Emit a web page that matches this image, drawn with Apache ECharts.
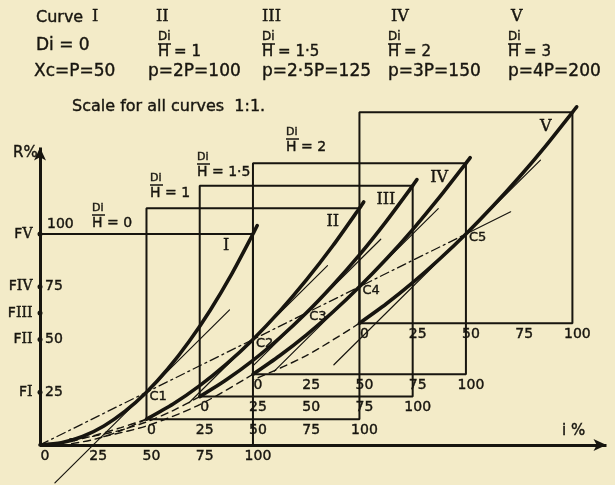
<!DOCTYPE html>
<html>
<head>
<meta charset="utf-8">
<script src="https://cdn.jsdelivr.net/npm/echarts@6/dist/echarts.min.js"></script>
<style>
html, body { margin: 0; padding: 0; background: #f3ebc8; }
#main { width: 615px; height: 485px; }
</style>
</head>
<body>
<div id="main"></div>
<script>
var ink = '#17150f';
var font = 'DejaVu Sans';
var serif = 'DejaVu Serif';

// data (units: i% across, R% up, scale 1:1)
var tickSteps = [0, 25, 50, 75, 100];
var tickLabels = ['0', '25', '50', '75', '100'];
var boxNames = ['I', 'II', 'III', 'IV', 'V'];
var boxOrigins = [[0, 0], [50, 12.2], [75, 22.9], [100, 33.5], [150, 57.7]];
var boxSize = 100;
var contactPoints = [[50, 25], [100, 50], [125, 62.5], [150, 75], [200, 100]];
var contactNames = ['C1', 'C2', 'C3', 'C4', 'C5'];
var fValues = ['25', '50', '', '75', '100'];

var curveI = [[0, 0], [10, 1], [20, 4], [30, 9], [40, 16], [50, 25], [60, 36], [70, 49], [80, 64], [90, 81], [100, 100], [102, 104]];
var curveII = [[50, 12.2], [62.5, 19.4], [75, 28.1], [87.5, 38.3], [100, 50], [112.5, 63.3], [125, 78.1], [137.5, 94.4], [150, 112.2], [152, 115.2]];
var curveIII = [[75, 22.9], [87.5, 30.9], [100, 40.1], [112.5, 50.7], [125, 62.5], [137.5, 75.7], [150, 90.1], [162.5, 105.9], [175, 122.9], [177, 125.8]];
var curveIV = [[100, 33.5], [112.5, 42.3], [125, 52.1], [137.5, 63], [150, 75], [162.5, 88], [175, 102.1], [187.5, 117.3], [200, 133.5], [202, 136.2]];
var curveV = [[150, 57.7], [162.5, 66.8], [175, 76.9], [187.5, 88], [200, 100], [212.5, 113], [225, 126.9], [237.5, 141.8], [250, 157.7], [252, 160.3]];

// dashed run-outs below each box origin
var dashII = [[50, 12.2], [37.5, 6.6], [25, 2.5], [13, 0.3]];
var dashIIb = [[50, 12.2], [38, 8.2], [26, 4.6], [16, 2]];
var dashIII = [[75, 22.9], [62.5, 16.3], [50, 10.9], [37.5, 6.9], [25, 4.1], [14, 2.8]];
var dashIV = [[100, 33.5], [75, 19.1], [50, 9], [30, 4]];
var dashV = [[150, 57.7], [125, 42.3], [100, 30.8]];

// thin tangents at the contact points
var tangents = [
  [[7, -18], [89, 64]],
  [[70, 20], [135, 85]],
  [[100, 37.5], [160, 97.5]],
  [[110, 35], [187, 112]],
  [[138, 38], [235, 135]]
];
var chord = [[0, 0], [200, 100]];
var chordTail = [[200, 100], [221, 110.5]];

var chart = echarts.init(document.getElementById('main'));

function path(data, width, type, smooth) {
  return {
    type: 'line', data: data, symbol: 'none', smooth: smooth || false,
    clip: false, silent: true, animation: false,
    lineStyle: { color: ink, width: width, type: type || 'solid', cap: 'round' }
  };
}
function lbl(o) {
  o.show = true;
  o.color = ink;
  o.opacity = 1;
  o.textBorderColor = ink;
  o.textBorderWidth = 0.4;
  return o;
}

var series = [];

// frames of the five diagrams
boxOrigins.forEach(function (o, i) {
  var x0 = o[0], y0 = o[1], x1 = x0 + boxSize, y1 = y0 + boxSize;
  var d = i === 0 ? [[x0, y1], [x1, y1], [x1, y0]]
                  : [[x0, y0], [x1, y0], [x1, y1], [x0, y1], [x0, y0]];
  series.push(path(d, 2));
});

// main axes with arrows
series.push({
  type: 'line', data: [], animation: false,
  markLine: {
    silent: true, animation: false, symbol: ['none', 'arrow'], symbolSize: [9, 13],
    label: { show: false },
    lineStyle: { color: ink, width: 3, type: 'solid' },
    data: [
      [{ coord: [0, 0] }, { coord: [0, 141] }],
      [{ coord: [0, 0] }, { coord: [266, 0] }]
    ]
  }
});

tangents.forEach(function (t) { series.push(path(t, 1.2)); });
series.push(path(chord, 1.3, [9, 4, 2, 4]));
series.push(path(chordTail, 1.2));
[dashII, dashIIb, dashIII, dashIV, dashV].forEach(function (d) {
  series.push(path(d, 1.4, [7, 5], 0.3));
});

var curves = [curveI, curveII, curveIII, curveIV, curveV];
curves.forEach(function (c) { series.push(path(c, 3.6, 'solid', 0.25)); });

// curve numerals next to the top ends
series.push({
  type: 'scatter', symbolSize: 0, silent: true, animation: false,
  data: curves.map(function (c, i) { return { value: c[c.length - 1], name: boxNames[i] }; }),
  label: lbl({ position: 'inside', formatter: '{b}', offset: [-31, 20], fontFamily: serif, fontSize: 16 })
});

// tick labels under each frame
var ticks = [];
boxOrigins.forEach(function (o) {
  tickSteps.forEach(function (s, k) {
    ticks.push({ value: [o[0] + s, o[1]], name: tickLabels[k] });
  });
});
series.push({
  type: 'scatter', symbolSize: 0, silent: true, animation: false, data: ticks,
  label: lbl({ position: 'bottom', distance: 4, offset: [5, 0], formatter: '{b}', fontFamily: font, fontSize: 14 })
});

// contact point names
series.push({
  type: 'scatter', symbolSize: 0, silent: true, animation: false,
  data: contactPoints.map(function (p, i) { return { value: p, name: contactNames[i] }; }),
  label: lbl({ position: 'right', distance: 3, offset: [0, 4], formatter: '{b}', fontFamily: font, fontSize: 13 })
});

// F marks on the R axis
series.push({
  type: 'scatter', symbol: 'circle', symbolSize: 5, silent: true, animation: false,
  itemStyle: { color: ink, opacity: 1 },
  data: contactPoints.map(function (p, i) { return { value: [0, p[1]], name: boxNames[i] }; }),
  label: lbl({
    position: 'left', distance: 5,
    formatter: function (p) { return '{f|F}{n|' + p.name + '}'; },
    rich: {
      f: { color: ink, fontFamily: font, fontSize: 14, textBorderColor: ink, textBorderWidth: 0.4 },
      n: { color: ink, fontFamily: serif, fontSize: 14, textBorderColor: ink, textBorderWidth: 0.4 }
    }
  })
});
series.push({
  type: 'scatter', symbolSize: 0, silent: true, animation: false,
  data: contactPoints.map(function (p, i) {
    var item = { value: [0, p[1]], name: fValues[i] };
    if (i === contactPoints.length - 1) item.label = { offset: [2, -10] };
    return item;
  }),
  label: lbl({ position: 'right', distance: 5, formatter: '{b}', fontFamily: font, fontSize: 14 })
});

// header and fraction notes
function txt(s, x, y, size, fam) {
  return { type: 'text', x: x, y: y, silent: true,
    style: { text: s, fill: ink, stroke: ink, lineWidth: 0.4, font: (size || 17) + 'px "' + (fam || font) + '"' } };
}
function frac(x, y, den, size) {
  size = size || 15;
  return { type: 'group', x: x, y: y, silent: true, children: [
    txt('Di', 0, 0, size - 3),
    { type: 'line', shape: { x1: 0, y1: size - 2, x2: 13, y2: size - 2 }, style: { stroke: ink, lineWidth: 1.5 } },
    txt(den, 0, size - 1, size)
  ] };
}

var graphics = [
  txt('Curve', 36, 10, 16), txt('I', 92, 9, 16, serif), txt('II', 156, 9, 16, serif),
  txt('III', 262, 9, 16, serif), txt('IV', 391, 9, 16, serif), txt('V', 511, 9, 16, serif),
  txt('Di = 0', 36, 37),
  frac(158, 31, 'H = 1'), frac(262, 31, 'H = 1·5'), frac(388, 31, 'H = 2'), frac(508, 31, 'H = 3'),
  txt('Xc=P=50', 34, 63), txt('p=2P=100', 148, 63), txt('p=2·5P=125', 262, 63),
  txt('p=3P=150', 388, 63), txt('p=4P=200', 508, 63),
  txt('Scale for all curves  1:1.', 72, 99, 16),
  frac(92, 203, 'H = 0', 14), frac(150, 173, 'H = 1', 14),
  frac(197, 152, 'H = 1·5', 14), frac(286, 127, 'H = 2', 14),
  txt('R%', 13, 146, 15), txt('i %', 562, 424, 15)
];

chart.setOption({
  backgroundColor: '#f3ebc8',
  animation: false,
  grid: { left: 40, top: 103.2, width: 575.1, height: 381.9 },
  xAxis: { type: 'value', min: 0, max: 270, show: false },
  yAxis: { type: 'value', min: -19, max: 162, show: false },
  graphic: graphics,
  series: series
});
</script>
</body>
</html>
